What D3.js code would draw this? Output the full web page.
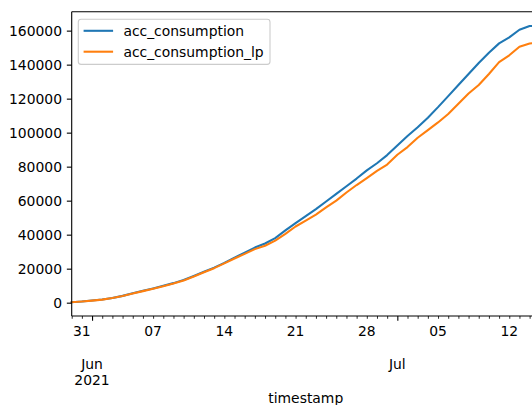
<!DOCTYPE html>
<html>
<head>
<meta charset="utf-8">
<script src="https://cdn.jsdelivr.net/npm/d3@7"></script>
<style>
  html, body { margin: 0; padding: 0; background: #fff; }
  svg { display: block; font-family: "DejaVu Sans", sans-serif; }
</style>
</head>
<body>
<svg id="chart" width="532" height="405"></svg>
<script>
// Daily timestamps (UTC dates)
const dates = [
  "2021-05-30","2021-05-31",
  "2021-06-01","2021-06-02","2021-06-03","2021-06-04","2021-06-05","2021-06-06","2021-06-07",
  "2021-06-08","2021-06-09","2021-06-10","2021-06-11","2021-06-12","2021-06-13","2021-06-14",
  "2021-06-15","2021-06-16","2021-06-17","2021-06-18","2021-06-19","2021-06-20","2021-06-21",
  "2021-06-22","2021-06-23","2021-06-24","2021-06-25","2021-06-26","2021-06-27","2021-06-28",
  "2021-06-29","2021-06-30",
  "2021-07-01","2021-07-02","2021-07-03","2021-07-04","2021-07-05","2021-07-06","2021-07-07",
  "2021-07-08","2021-07-09","2021-07-10","2021-07-11","2021-07-12","2021-07-13","2021-07-14",
  "2021-07-15"
];

// Accumulated consumption
const accConsumption = [
  300, 700,
  1300, 1900, 2800, 4000, 5600, 7000, 8400,
  9900, 11500, 13300, 15700, 18200, 20600, 23400,
  26500, 29400, 32400, 34800, 38000, 42500, 46800,
  50900, 55000, 59500, 64000, 68500, 73000, 77800,
  82000, 86800,
  92500, 98000, 103200, 108800, 115000, 121500, 128000,
  134500, 141000, 147000, 152500, 156000, 160500, 162700,
  163000
];

// Accumulated consumption (lp)
const accConsumptionLp = [
  300, 700,
  1200, 1800, 2700, 3900, 5400, 6800, 8200,
  9700, 11300, 13100, 15400, 17900, 20300, 23100,
  26000, 28700, 31500, 33500, 36500, 40500, 44800,
  48300, 51800, 56000, 60000, 64800, 69200, 73300,
  77500, 81200,
  87000, 91500, 97000, 101500, 106000, 111000, 117000,
  123000, 128000, 134500, 141500, 145500, 150500, 152400,
  153000
];

const seriesNames = ["acc_consumption", "acc_consumption_lp"];
const seriesColors = ["#1f77b4", "#ff7f0e"];

const yTickValues = [0, 20000, 40000, 60000, 80000, 100000, 120000, 140000, 160000];
// Weekly day labels and month labels on the time axis
const dayLabelDates = ["2021-05-31","2021-06-07","2021-06-14","2021-06-21","2021-06-28","2021-07-05","2021-07-12"];
const monthLabelDates = ["2021-06-01","2021-07-01"];
const monthLabels = [["Jun", "2021"], ["Jul"]];
const xLabel = "timestamp";

const parse = d3.utcParse("%Y-%m-%d");
const t = dates.map(parse);

const svg = d3.select("#chart");
const fs = 13.9;
const plotLeft = 71.7, plotRight = 539.8, plotTop = 11.7, plotBottom = 316;

const x = d3.scaleUtc().domain(d3.extent(t)).range([plotLeft, plotRight]);

const allVals = accConsumption.concat(accConsumptionLp);
const [vmin, vmax] = d3.extent(allVals);
const pad = (vmax - vmin) * 0.05;
const y = d3.scaleLinear().domain([vmin - pad, vmax + pad]).range([plotBottom, plotTop]);

// Lines
const line = d3.line().x((d, i) => x(t[i])).y(d => y(d));
[accConsumption, accConsumptionLp].forEach((vals, k) => {
  svg.append("path")
    .datum(vals)
    .attr("d", line)
    .attr("fill", "none")
    .attr("stroke", seriesColors[k])
    .attr("stroke-width", 2.08)
    .attr("stroke-linejoin", "round")
    .attr("stroke-linecap", "square");
});

// Spines
const spines = svg.append("g").attr("stroke", "#000").attr("stroke-width", 1.1).attr("fill", "none");
spines.append("line").attr("x1", plotLeft).attr("x2", plotLeft).attr("y1", plotTop).attr("y2", plotBottom);
spines.append("line").attr("x1", plotLeft).attr("x2", plotRight).attr("y1", plotBottom).attr("y2", plotBottom);
spines.append("line").attr("x1", plotLeft).attr("x2", plotRight).attr("y1", plotTop).attr("y2", plotTop);
spines.append("line").attr("x1", plotRight).attr("x2", plotRight).attr("y1", plotTop).attr("y2", plotBottom);

// Y axis
const yAxis = d3.axisLeft(y).tickValues(yTickValues).tickFormat(d3.format("d"))
  .tickSize(4.86).tickPadding(4.86);
const gy = svg.append("g").attr("transform", `translate(${plotLeft},0)`).call(yAxis);
gy.select(".domain").remove();
gy.selectAll(".tick line").attr("stroke", "#000").attr("stroke-width", 1.1);
gy.selectAll(".tick text").attr("font-size", fs).attr("fill", "#000")
  .attr("font-family", "DejaVu Sans");

// X axis: daily minor ticks, month-start major ticks
const monthStarts = monthLabelDates.map(parse);
const dayTicks = d3.utcDay.range(t[0], d3.utcDay.offset(t[t.length - 1], 1))
  .filter(d => !monthStarts.some(m => +m === +d));
const minorAxis = d3.axisBottom(x).tickValues(dayTicks).tickSize(2.78).tickFormat("");
const gxm = svg.append("g").attr("transform", `translate(0,${plotBottom})`).call(minorAxis);
gxm.select(".domain").remove();
gxm.selectAll(".tick line").attr("stroke", "#000").attr("stroke-width", 0.83);

const majorAxis = d3.axisBottom(x).tickValues(monthStarts).tickSize(4.86).tickFormat("");
const gxM = svg.append("g").attr("transform", `translate(0,${plotBottom})`).call(majorAxis);
gxM.select(".domain").remove();
gxM.selectAll(".tick line").attr("stroke", "#000").attr("stroke-width", 1.1);

// Day labels
const fmtDay = d3.utcFormat("%d");
svg.append("g").selectAll("text")
  .data(dayLabelDates.map(parse))
  .join("text")
  .attr("x", d => x(d))
  .attr("y", 335.5)
  .attr("text-anchor", "middle")
  .attr("font-size", fs)
  .attr("fill", "#000")
  .text(d => fmtDay(d));

// Month labels
monthStarts.forEach((m, i) => {
  const txt = svg.append("text")
    .attr("x", x(m))
    .attr("y", 368.5)
    .attr("text-anchor", "middle")
    .attr("font-size", fs)
    .attr("fill", "#000");
  monthLabels[i].forEach((s, j) => {
    txt.append("tspan").attr("x", x(m)).attr("dy", j === 0 ? 0 : 16.2).text(s);
  });
});

// X axis title
svg.append("text")
  .attr("x", (plotLeft + plotRight) / 2)
  .attr("y", 402.5)
  .attr("text-anchor", "middle")
  .attr("font-size", fs)
  .attr("fill", "#000")
  .text(xLabel);

// Legend
const lg = svg.append("g");
lg.append("rect")
  .attr("x", 78.3).attr("y", 19.2)
  .attr("width", 191.7).attr("height", 45.2)
  .attr("rx", 2.8).attr("ry", 2.8)
  .attr("fill", "#fff").attr("fill-opacity", 0.8)
  .attr("stroke", "#cccccc").attr("stroke-width", 1.1);
seriesNames.forEach((name, i) => {
  const cy = 30.8 + i * 20.9;
  lg.append("line")
    .attr("x1", 83.6).attr("x2", 113.1)
    .attr("y1", cy).attr("y2", cy)
    .attr("stroke", seriesColors[i]).attr("stroke-width", 2.08);
  lg.append("text")
    .attr("x", 123.4).attr("y", cy + 5)
    .attr("font-size", fs).attr("fill", "#000")
    .text(name);
});
</script>
</body>
</html>
